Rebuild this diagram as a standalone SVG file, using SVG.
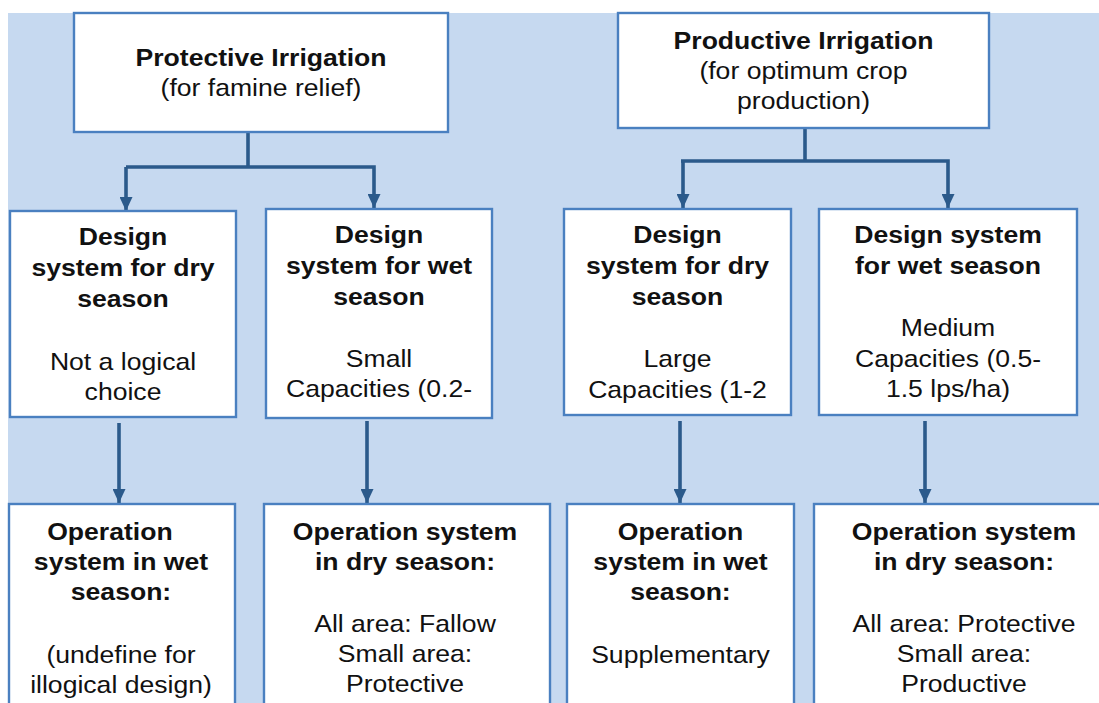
<svg xmlns="http://www.w3.org/2000/svg" width="1099" height="703" viewBox="0 0 1099 703">
  <defs>
    <marker id="arrow" viewBox="0 0 14 13" refX="14" refY="6.5" markerWidth="14" markerHeight="13" markerUnits="userSpaceOnUse" orient="auto">
      <path d="M0,0 L14,6.5 L0,13 Z" fill="#2b5a8b"/>
    </marker>
    <style>
      .box { fill: #ffffff; stroke: #4a80c0; stroke-width: 2.4; }
      .wire { fill: none; stroke: #2b5a8b; stroke-width: 3.6; }
      .arr { fill: none; stroke: #2b5a8b; stroke-width: 3.6; marker-end: url(#arrow); }
      text { font-family: "Liberation Sans", Arial, sans-serif; font-size: 24px; fill: #111111; text-anchor: middle; }
      .b { font-weight: bold; }
    </style>
  </defs>

  <!-- backdrop -->
  <rect x="0" y="0" width="1099" height="703" fill="#ffffff"/>
  <rect x="8" y="13" width="1091" height="690" fill="#c6d9f0"/>

  <!-- connectors -->
  <g id="connectors">
    <polyline class="wire" points="248,133 248,167"/>
    <polyline class="arr" points="126,167 126,211"/>
    <polyline class="arr" points="126,167 374,167 374,208"/>
    <polyline class="wire" points="805,129 805,161"/>
    <polyline class="arr" points="683,161 683,208"/>
    <polyline class="arr" points="681,161 948,161 948,208"/>
    <line class="arr" x1="119" y1="423" x2="119" y2="503"/>
    <line class="arr" x1="367" y1="421" x2="367" y2="503"/>
    <line class="arr" x1="680" y1="421" x2="680" y2="503"/>
    <line class="arr" x1="925" y1="421" x2="925" y2="503"/>
  </g>

  <!-- top level -->
  <g id="protective">
    <rect class="box" x="74" y="13" width="374" height="119"/>
    <g transform="translate(261 0) scale(1.108 1)">
      <text class="b" x="0" y="66">Protective Irrigation</text>
      <text x="0" y="96">(for famine relief)</text>
    </g>
  </g>
  <g id="productive">
    <rect class="box" x="618" y="13" width="371" height="115"/>
    <g transform="translate(803.5 0) scale(1.108 1)">
      <text class="b" x="0" y="49">Productive Irrigation</text>
      <text x="0" y="79">(for optimum crop</text>
      <text x="0" y="109">production)</text>
    </g>
  </g>

  <!-- design systems -->
  <g id="design-dry-protective">
    <rect class="box" x="10" y="211" width="226" height="206"/>
    <g transform="translate(123 0) scale(1.108 1)">
      <text class="b" x="0" y="245">Design</text>
      <text class="b" x="0" y="276">system for dry</text>
      <text class="b" x="0" y="307">season</text>
      <text x="0" y="370">Not a logical</text>
      <text x="0" y="400">choice</text>
    </g>
  </g>
  <g id="design-wet-protective">
    <rect class="box" x="266" y="209" width="226" height="209"/>
    <g transform="translate(379 0) scale(1.108 1)">
      <text class="b" x="0" y="243">Design</text>
      <text class="b" x="0" y="274">system for wet</text>
      <text class="b" x="0" y="305">season</text>
      <text x="0" y="367">Small</text>
      <text x="0" y="397">Capacities (0.2-</text>
    </g>
  </g>
  <g id="design-dry-productive">
    <rect class="box" x="564" y="209" width="227" height="206"/>
    <g transform="translate(677.5 0) scale(1.108 1)">
      <text class="b" x="0" y="243">Design</text>
      <text class="b" x="0" y="274">system for dry</text>
      <text class="b" x="0" y="305">season</text>
      <text x="0" y="367">Large</text>
      <text x="0" y="398">Capacities (1-2</text>
    </g>
  </g>
  <g id="design-wet-productive">
    <rect class="box" x="819" y="209" width="258" height="206"/>
    <g transform="translate(948 0) scale(1.108 1)">
      <text class="b" x="0" y="243">Design system</text>
      <text class="b" x="0" y="274">for wet season</text>
      <text x="0" y="336">Medium</text>
      <text x="0" y="367">Capacities (0.5-</text>
      <text x="0" y="397">1.5 lps/ha)</text>
    </g>
  </g>

  <!-- operation systems -->
  <g id="operation-wet-protective">
    <rect class="box" x="9" y="504" width="226" height="220"/>
    <g transform="translate(121 0) scale(1.108 1)">
      <text class="b" x="-10" y="540">Operation</text>
      <text class="b" x="0" y="570">system in wet</text>
      <text class="b" x="0" y="600">season:</text>
      <text x="0" y="663">(undefine for</text>
      <text x="0" y="693">illogical design)</text>
    </g>
  </g>
  <g id="operation-dry-protective">
    <rect class="box" x="264" y="504" width="286" height="220"/>
    <g transform="translate(405 0) scale(1.108 1)">
      <text class="b" x="0" y="540">Operation system</text>
      <text class="b" x="0" y="570">in dry season:</text>
      <text x="0" y="632">All area: Fallow</text>
      <text x="0" y="662">Small area:</text>
      <text x="0" y="692">Protective</text>
    </g>
  </g>
  <g id="operation-wet-productive">
    <rect class="box" x="567" y="504" width="227" height="220"/>
    <g transform="translate(680.5 0) scale(1.108 1)">
      <text class="b" x="0" y="540">Operation</text>
      <text class="b" x="0" y="570">system in wet</text>
      <text class="b" x="0" y="600">season:</text>
      <text x="0" y="663">Supplementary</text>
    </g>
  </g>
  <g id="operation-dry-productive">
    <rect class="box" x="814" y="504" width="300" height="220"/>
    <g transform="translate(964 0) scale(1.108 1)">
      <text class="b" x="0" y="540">Operation system</text>
      <text class="b" x="0" y="570">in dry season:</text>
      <text x="0" y="632">All area: Protective</text>
      <text x="0" y="662">Small area:</text>
      <text x="0" y="692">Productive</text>
    </g>
  </g>
</svg>
